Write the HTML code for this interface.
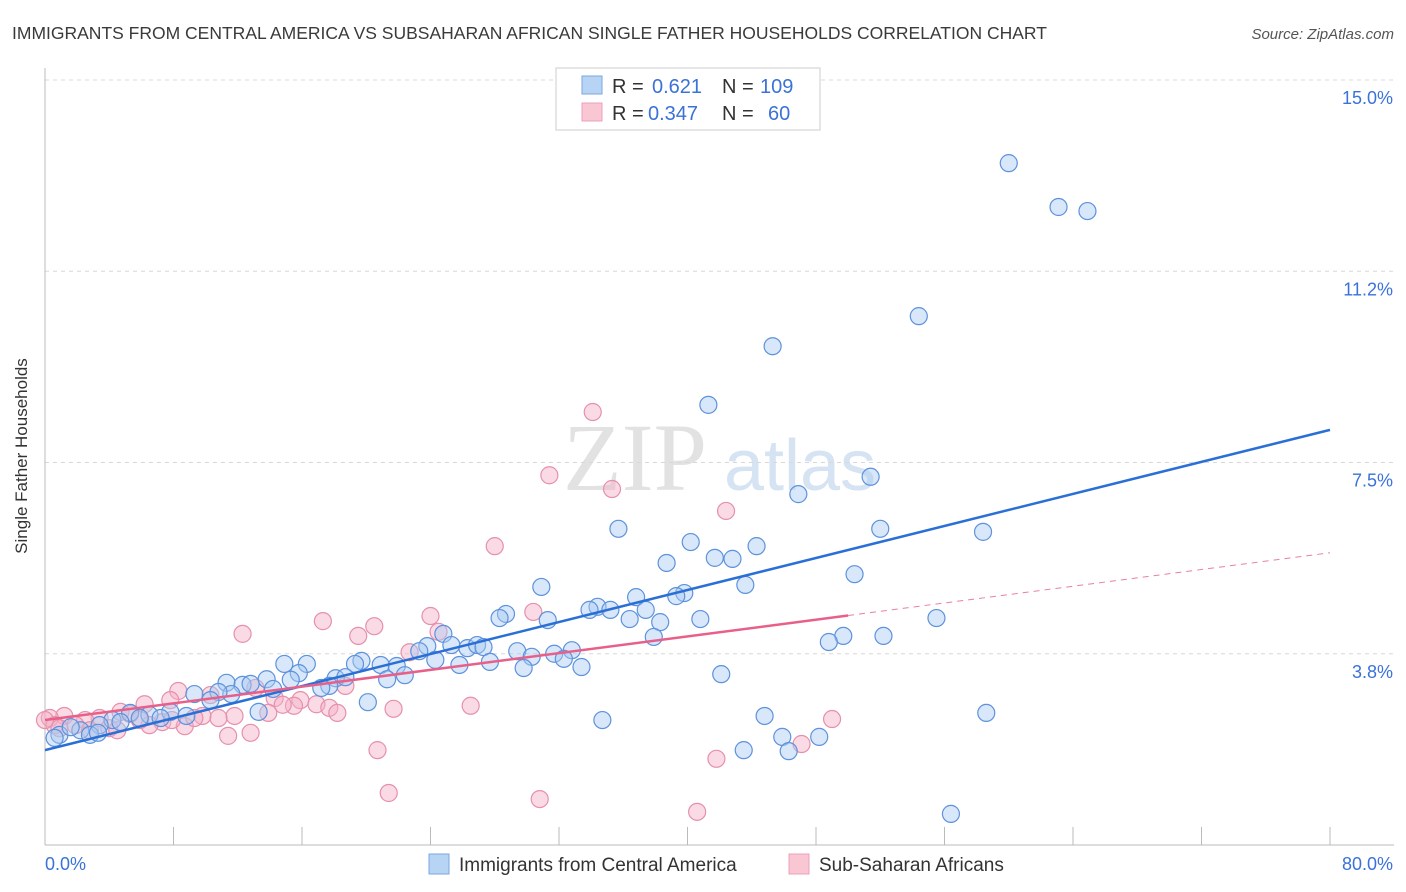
<!DOCTYPE html>
<html><head><meta charset="utf-8"><style>
body{margin:0;background:#fff;font-family:"Liberation Sans",sans-serif;}
#wrap{position:relative;width:1406px;height:892px;overflow:hidden;}
</style></head><body>
<div id="wrap">
<svg id="chart" width="1406" height="892" xmlns="http://www.w3.org/2000/svg">
<text x="12" y="39" font-size="17.5" fill="#3a3a3a">IMMIGRANTS FROM CENTRAL AMERICA VS SUBSAHARAN AFRICAN SINGLE FATHER HOUSEHOLDS CORRELATION CHART</text>
<text x="1394" y="39" font-size="15" fill="#555" font-style="italic" text-anchor="end">Source: ZipAtlas.com</text>
<g>
<text x="635" y="490" font-size="96" fill="#e2e2e2" text-anchor="middle" font-family="Liberation Serif,serif">ZIP</text>
<text x="800" y="490" font-size="72" fill="#d5e3f3" text-anchor="middle">atlas</text>
</g>
<g id="grid"></g><g id="axes"></g><g id="trend"></g><g id="pts"></g>
<text x="27" y="456" font-size="17" fill="#333" text-anchor="middle" transform="rotate(-90 27 456)">Single Father Households</text>
<g>
<rect x="556" y="68" width="264" height="62" fill="#fff" stroke="#ccc"/>
<rect x="582" y="76" width="20" height="18" fill="#b8d4f5" stroke="#7aa7e0"/>
<rect x="582" y="103" width="20" height="18" fill="#f9c6d4" stroke="#eda0b8"/>
<text y="93" font-size="20"><tspan x="612" fill="#333">R = </tspan><tspan x="652" fill="#3a72d8">0.621</tspan><tspan x="722" fill="#333">N = </tspan><tspan x="760" fill="#3a72d8">109</tspan></text>
<text y="120" font-size="20"><tspan x="612" fill="#333">R = </tspan><tspan x="648" fill="#3a72d8">0.347</tspan><tspan x="722" fill="#333">N = </tspan><tspan x="768" fill="#3a72d8">60</tspan></text>
</g>
<g>
<rect x="429" y="854" width="20" height="20" fill="#b8d4f5" stroke="#7aa7e0"/>
<text x="459" y="871" font-size="19" fill="#333">Immigrants from Central America</text>
<rect x="789" y="854" width="20" height="20" fill="#f9c6d4" stroke="#eda0b8"/>
<text x="819" y="871" font-size="19" fill="#333">Sub-Saharan Africans</text>
</g>
</svg>
</div>
<script>
const yTicks=[3.75,7.5,11.25,15];
const yTickLabels=["3.8%","7.5%","11.2%","15.0%"];
const xTickValues=[0,8,16,24,32,40,48,56,64,72,80];
const xEndLabels=["0.0%","80.0%"];
const blueX=[60.0,63.1,64.9,54.4,45.3,41.3,51.4,46.9,35.7,52.0,58.4,40.2,44.3,41.7,42.8,38.7,50.4,30.9,43.6,39.8,39.3,36.8,34.4,33.9,35.2,37.4,28.7,28.3,31.3,36.4,40.8,55.5,38.3,49.7,52.2,37.9,48.8,24.8,25.3,23.8,26.3,26.9,27.3,23.3,29.4,31.7,32.8,30.3,32.3,24.3,27.7,33.4,25.8,29.8,19.7,19.3,20.9,21.9,16.3,14.9,15.8,22.4,21.3,13.8,18.1,18.7,17.7,17.2,15.3,11.3,12.3,12.8,14.2,9.3,11.6,10.8,10.3,20.1,8.8,7.8,6.5,5.3,4.2,3.4,2.2,0.9,0.6,2.8,1.6,4.7,13.3,34.7,42.1,44.8,45.9,43.5,46.3,48.2,58.6,56.4,7.2,5.9,3.3];
const blueY=[13.37,12.51,12.43,10.37,9.78,8.63,7.22,6.88,6.20,6.20,6.14,5.94,5.86,5.63,5.61,5.53,5.31,5.06,5.10,4.94,4.88,4.86,4.67,4.61,4.61,4.61,4.53,4.45,4.41,4.43,4.43,4.45,4.37,4.10,4.10,4.08,3.98,4.14,3.92,3.90,3.86,3.92,3.88,3.80,3.80,3.75,3.82,3.69,3.65,3.63,3.59,3.49,3.53,3.47,3.61,3.55,3.53,3.51,3.55,3.55,3.37,3.33,3.25,3.25,3.27,3.29,3.12,3.08,3.24,3.18,3.14,3.16,3.06,2.96,2.96,3.00,2.84,2.80,2.53,2.61,2.55,2.59,2.45,2.35,2.25,2.16,2.10,2.16,2.31,2.41,2.61,2.45,3.35,2.53,2.12,1.86,1.84,2.12,2.59,0.61,2.49,2.49,2.20];
const pinkX=[34.1,31.4,35.3,42.4,28.0,30.4,24.0,17.3,20.5,12.3,19.5,24.5,22.7,8.3,13.1,18.7,6.2,7.8,10.3,14.3,15.9,16.9,17.7,18.2,15.5,14.8,26.5,21.7,13.9,11.8,10.8,9.8,8.7,7.3,4.7,5.3,3.4,2.5,1.2,0.3,0.6,1.9,4.0,6.5,11.4,12.8,20.7,21.4,30.8,40.6,41.8,47.1,49.0,5.9,9.3,2.8,0.9,0.0,4.5,7.9];
const pinkY=[8.49,7.25,6.98,6.55,5.86,4.57,4.49,4.39,4.29,4.14,4.10,4.18,3.78,3.02,3.08,3.12,2.76,2.84,2.94,2.88,2.84,2.76,2.69,2.59,2.73,2.75,2.73,2.67,2.59,2.53,2.49,2.53,2.33,2.41,2.61,2.57,2.49,2.45,2.53,2.49,2.35,2.35,2.29,2.35,2.14,2.20,1.86,1.02,0.90,0.65,1.69,1.98,2.47,2.45,2.49,2.25,2.29,2.45,2.25,2.45];
const blueTrend=[1.86,8.14]; // value at x=0, x=80
const pinkTrend=[2.45,5.73];
const pinkSolidEnd=50;

const NS="http://www.w3.org/2000/svg";
const X0=45,X1=1330,Y0=845;
function sx(v){return X0+(v/80)*(X1-X0);}
function sy(v){return Y0-v*51.0;}
function mk(tag,attrs,parent){const e=document.createElementNS(NS,tag);for(const k in attrs)e.setAttribute(k,attrs[k]);parent.appendChild(e);return e;}
const grid=document.getElementById('grid'),axes=document.getElementById('axes'),trend=document.getElementById('trend'),pts=document.getElementById('pts');
yTicks.forEach((t,i)=>{
  const l=mk('line',{x1:X0,x2:1394,y1:sy(t),y2:sy(t),stroke:'#d8d8d8','stroke-dasharray':'4,4'},grid);
  
  
  const tx=mk('text',{x:1393,y:sy(t)+24,'font-size':18,fill:'#3a72d8','text-anchor':'end'},axes);
  tx.textContent=yTickLabels[i];
  
  
});
const ya=mk('line',{x1:X0,x2:X0,y1:68,y2:Y0,stroke:'#bbb'},axes);


const xa=mk('line',{x1:X0,x2:1394,y1:Y0,y2:Y0,stroke:'#bbb'},axes);


xTickValues.forEach(v=>{
  const t=mk('line',{x1:sx(v),x2:sx(v),y1:Y0-18,y2:Y0,stroke:'#bbb'},axes);
  
  
});
const xl0=mk('text',{x:45,y:870,'font-size':18,fill:'#3a72d8'},axes);xl0.textContent=xEndLabels[0];


const xl1=mk('text',{x:1393,y:870,'font-size':18,fill:'#3a72d8','text-anchor':'end'},axes);xl1.textContent=xEndLabels[1];


function drawPts(xs,ys,fill,stroke,name){xs.forEach((x,i)=>{
  const c=mk('circle',{cx:sx(x),cy:sy(ys[i]),r:8.5,fill:fill,'fill-opacity':0.45,stroke:stroke,'stroke-width':1.2},pts);
  
  
});}
drawPts(pinkX,pinkY,'#f5b0c5','#e690ab','pink-point');
drawPts(blueX,blueY,'#a9c9f1','#5d92dc','blue-point');
function tv(tr,x){return tr[0]+(tr[1]-tr[0])*x/80;}
const bl=mk('line',{x1:sx(0),y1:sy(tv(blueTrend,0)),x2:sx(80),y2:sy(tv(blueTrend,80)),stroke:'#2a6fd6','stroke-width':2.5},trend);


const pl=mk('line',{x1:sx(0),y1:sy(tv(pinkTrend,0)),x2:sx(pinkSolidEnd),y2:sy(tv(pinkTrend,pinkSolidEnd)),stroke:'#e8608a','stroke-width':2.5},trend);


const pd=mk('line',{x1:sx(pinkSolidEnd),y1:sy(tv(pinkTrend,pinkSolidEnd)),x2:sx(80),y2:sy(tv(pinkTrend,80)),stroke:'#e8809f','stroke-width':1,'stroke-dasharray':'6,5'},trend);


const svg=document.getElementById('chart');svg.appendChild(trend);
</script>
</body></html>
